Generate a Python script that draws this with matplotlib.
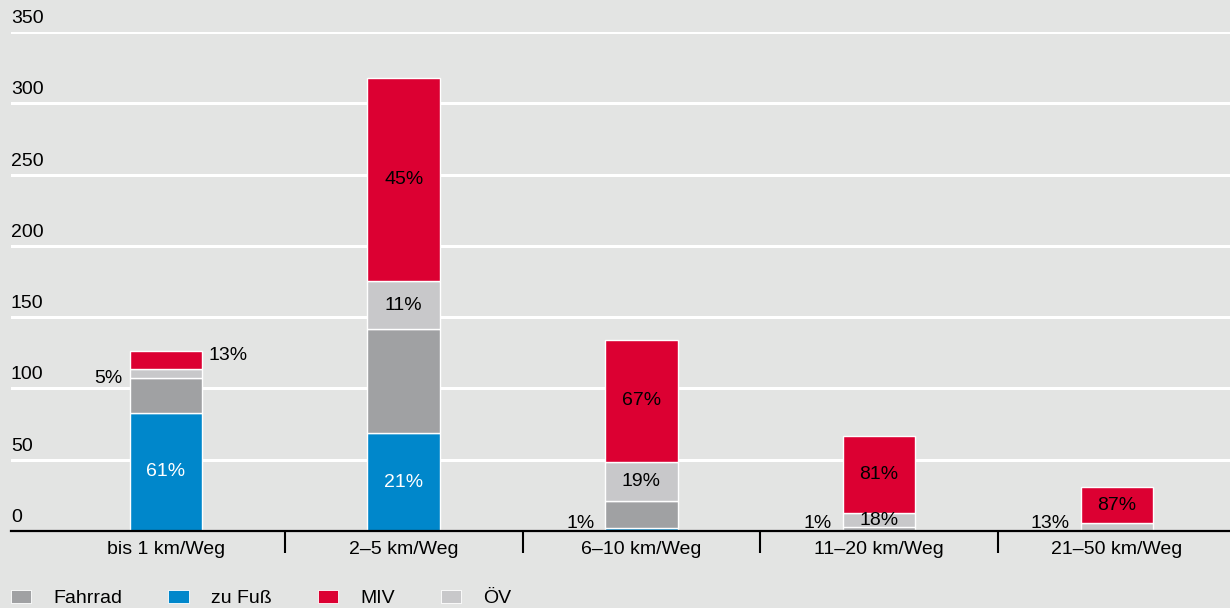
import matplotlib.pyplot as plt
from matplotlib.patches import Patch
from matplotlib.transforms import blended_transform_factory

plt.rcParams['font.family'] = ['Liberation Sans', 'DejaVu Sans']

# Daten (Wege pro Entfernungsklasse)
categories = ['bis 1 km/Weg', '2–5 km/Weg', '6–10 km/Weg', '11–20 km/Weg', '21–50 km/Weg']
zu_fuss = [83, 68.7, 2.3, 0.5, 0]
fahrrad = [24, 73, 19, 2, 0]
oev = [6.4, 33.6, 27, 10.4, 5.4]
miv = [13, 142.4, 86, 54, 25.2]

# Beschriftungen: (Kategorie, Serie, Text, Position)
labels = [
    (0, 'zu Fuß', '61%', 'in'), (0, 'ÖV', '5%', 'left'), (0, 'MIV', '13%', 'right'),
    (1, 'zu Fuß', '21%', 'in'), (1, 'ÖV', '11%', 'in'), (1, 'MIV', '45%', 'in'),
    (2, 'zu Fuß', '1%', 'base'), (2, 'ÖV', '19%', 'in'), (2, 'MIV', '67%', 'in'),
    (3, 'zu Fuß', '1%', 'base'), (3, 'ÖV', '18%', 'in'), (3, 'MIV', '81%', 'in'),
    (4, 'ÖV', '13%', 'base'), (4, 'MIV', '87%', 'in'),
]

yticks = [0, 50, 100, 150, 200, 250, 300, 350]

bg = '#e3e4e3'
colors = {'zu Fuß': '#0087cb', 'Fahrrad': '#a0a1a3', 'ÖV': '#c8c8ca', 'MIV': '#dc0032'}
series = {'zu Fuß': zu_fuss, 'Fahrrad': fahrrad, 'ÖV': oev, 'MIV': miv}
order = ['zu Fuß', 'Fahrrad', 'ÖV', 'MIV']
fs = 14

fig = plt.figure(figsize=(12.3, 6.08), dpi=100, facecolor=bg)
ax = fig.add_axes([11 / 1230, 77 / 608, 1 - 11 / 1230, (531 - 32) / 608])
ax.set_facecolor(bg)

x = list(range(len(categories)))
width = 0.305
bottoms = [0] * len(categories)
seg = {}
for name in order:
    vals = series[name]
    ax.bar(x, vals, width, bottom=bottoms, color=colors[name],
           edgecolor='white', linewidth=1.0, zorder=3)
    seg[name] = [(b, b + v) for b, v in zip(bottoms, vals)]
    bottoms = [b + v for b, v in zip(bottoms, vals)]

for cat, name, txt, pos in labels:
    lo, hi = seg[name][cat]
    if pos == 'in':
        col = 'white' if name == 'zu Fuß' else 'black'
        ax.text(cat, (lo + hi) / 2, txt, ha='center', va='center',
                fontsize=fs, color=col, zorder=4)
    elif pos == 'left':
        ax.text(cat - width / 2 - 0.03, (lo + hi) / 2 - 3, txt, ha='right',
                va='center', fontsize=fs, zorder=4)
    elif pos == 'right':
        ax.text(cat + width / 2 + 0.025, (lo + hi) / 2 + 3, txt, ha='left',
                va='center', fontsize=fs, zorder=4)
    else:
        ax.text(cat - width / 2 - 0.045, -0.5, txt, ha='right', va='bottom',
                fontsize=fs, zorder=4)

ax.set_xlim(-0.652, 4.476)
ax.set_ylim(0, 350)
ax.set_yticks(yticks)
ax.yaxis.grid(True, color='white', linewidth=2.2, zorder=1)
ax.tick_params(axis='y', length=0, labelleft=False)
trans = blended_transform_factory(ax.transAxes, ax.transData)
for v in yticks:
    ax.text(0.0, v + 3.5, str(v), transform=trans, ha='left', va='bottom',
            fontsize=fs, clip_on=False)

ax.set_xticks(x)
ax.set_xticklabels(categories, fontsize=fs)
ax.set_xticks([0.5, 1.5, 2.5, 3.5], minor=True)
ax.tick_params(axis='x', which='major', length=0, pad=7)
ax.tick_params(axis='x', which='minor', length=16, width=1.5, color='black')

for s in ['top', 'right', 'left']:
    ax.spines[s].set_visible(False)
ax.spines['bottom'].set_linewidth(1.6)
ax.spines['bottom'].set_zorder(5)

legend_order = ['Fahrrad', 'zu Fuß', 'MIV', 'ÖV']
handles = [Patch(facecolor=colors[n], edgecolor='white', linewidth=0.6, label=n)
           for n in legend_order]
fig.legend(handles=handles, loc='lower left', bbox_to_anchor=(10 / 1230, 0 / 608),
           ncol=4, frameon=False, fontsize=fs, handlelength=1.05, handleheight=0.68,
           handletextpad=1.15, columnspacing=2.35, borderpad=0.05, borderaxespad=0)

fig.savefig('out.png', dpi=100, facecolor=bg)
